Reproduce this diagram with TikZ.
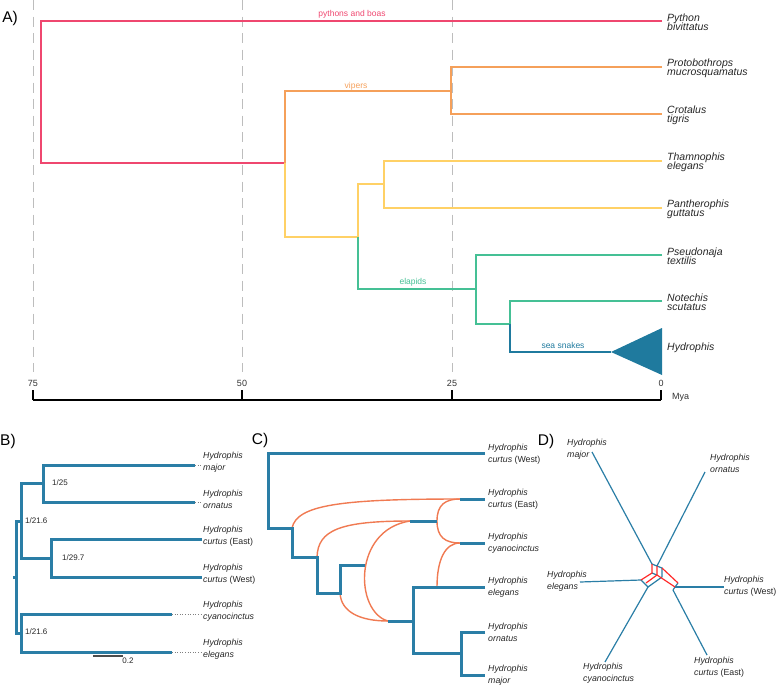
\documentclass[tikz,border=0pt]{standalone}
\usepackage{fontspec}
\setmainfont{Liberation Sans}
\usepackage{tikz}

\definecolor{pyth}{HTML}{EF476F}
\definecolor{viper}{HTML}{F5A05A}
\definecolor{colub}{HTML}{FFD166}
\definecolor{elap}{HTML}{45C095}
\definecolor{seasn}{HTML}{1F7A9E}
\definecolor{hydro}{HTML}{2A7EA6}
\definecolor{retic}{HTML}{F07A52}
\definecolor{splitred}{HTML}{FF2A2A}
\definecolor{gridgray}{HTML}{BDBDBD}
\newcommand{\tightlines}{\lineskiplimit=-20pt\relax}

\begin{document}
\begin{tikzpicture}[x=1pt,y=-1pt,
    tr/.style={line width=2.6pt},
    trb/.style={line width=3pt,hydro},
    ret/.style={line width=1.4pt,retic},
    net/.style={line width=1.2pt,hydro},
    netr/.style={line width=1.2pt,splitred},
    tip/.style={anchor=west,inner sep=0pt,align=left,text=black!85,
        font=\fontsize{10.5}{9.3}\selectfont\itshape\tightlines},
    tipb/.style={anchor=west,inner sep=0pt,align=left,text=black!85,
        font=\fontsize{8.8}{12.3}\selectfont\itshape},
    grp/.style={inner sep=0pt,font=\fontsize{8.5}{10}\selectfont},
    supp/.style={anchor=west,inner sep=0pt,text=black!85,font=\fontsize{8}{10}\selectfont},
    panel/.style={inner sep=0pt,font=\fontsize{15.5}{16}\selectfont},
    ax/.style={inner sep=0pt,text=black!80,font=\fontsize{9}{10}\selectfont}]
\useasboundingbox (0,0) rectangle (777,689);

% A) dated tree
\node[panel] (pA) at (10,18) {A)};
\foreach \x in {33,242,452}
    \draw[gridgray,line width=1pt,dash pattern=on 10pt off 6.5pt] (\x,0) -- (\x,372);
\draw[line width=1.3pt] (33,400) -- (661,400);
\foreach \x/\l in {33/75,242/50,452/25,661/0}{
    \draw[line width=1.3pt] (\x,400) -- (\x,390);
    \node[ax] (age\l) at (\x,383) {\l};
}
\node[ax,anchor=west] (mya) at (672,397) {Mya};

\coordinate (root) at (41,92);
\coordinate (pyt) at (662,21);
\coordinate (n1) at (285,163);
\coordinate (n2) at (451,91);
\coordinate (pro) at (662,67);
\coordinate (cro) at (662,114);
\coordinate (n3) at (358,237);
\coordinate (n4) at (384,184);
\coordinate (tha) at (662,161);
\coordinate (pan) at (662,208);
\coordinate (n5) at (476,289);
\coordinate (pse) at (662,255);
\coordinate (n6) at (510,324);
\coordinate (note) at (662,301);
\coordinate (sea) at (611,352);
\coordinate (hydtop) at (662,328);
\coordinate (hydbot) at (662,375);

\draw[tr,pyth] (pyt) -| (root) |- (n1);
\draw[tr,viper] (n2) -| (n1);
\draw[tr,viper] (pro) -| (n2) |- (cro);
\draw[tr,colub] (n1) |- (n3) |- (n4);
\draw[tr,colub] (tha) -| (n4) |- (pan);
\draw[tr,elap] (n3) |- (n5);
\draw[tr,elap] (pse) -| (n5) |- (n6);
\draw[tr,elap] (note) -| (n6);
\draw[tr,seasn] (n6) |- (sea);
\fill[seasn] (sea) -- (hydtop) -- (hydbot) -- cycle;

\node[grp,pyth] (lpyth) at (352,14) {pythons and boas};
\node[grp,viper] (lvip) at (356,86) {vipers};
\node[grp,elap] (lelap) at (413,282) {elapids};
\node[grp,seasn] (lsea) at (563,345) {sea snakes};

\node[tip] (lpyt) at ([xshift=5pt,yshift=-1pt]pyt) {Python\\bivittatus};
\node[tip] (lpro) at ([xshift=5pt,yshift=-1pt]pro) {Protobothrops\\mucrosquamatus};
\node[tip] (lcro) at ([xshift=5pt,yshift=-1pt]cro) {Crotalus\\tigris};
\node[tip] (ltha) at ([xshift=5pt,yshift=-1pt]tha) {Thamnophis\\elegans};
\node[tip] (lpan) at ([xshift=5pt,yshift=-1pt]pan) {Pantherophis\\guttatus};
\node[tip] (lpse) at ([xshift=5pt,yshift=-1pt]pse) {Pseudonaja\\textilis};
\node[tip] (lnot) at ([xshift=5pt,yshift=-1pt]note) {Notechis\\scutatus};
\node[tip] (lhyd) at (667,348) {Hydrophis};

% B) species tree
\node[panel] (pB) at (8,441) {B)};
\coordinate (bR) at (16,577);
\coordinate (bU) at (21,521);
\coordinate (bL) at (21,633);
\coordinate (bU1) at (43,483);
\coordinate (bU2) at (51,558);
\coordinate (bmaj) at (195,465);
\coordinate (born) at (195,502);
\coordinate (bcE) at (202,539);
\coordinate (bcW) at (202,577);
\coordinate (bcya) at (172,614);
\coordinate (bele) at (172,652);

\draw[trb] (bU) -| (bR) |- (bL);
\draw[trb] (bR) -- ++(-3,0);
\draw[trb] (bU1) -| (bU) |- (bU2);
\draw[trb] (bmaj) -| (bU1) |- (born);
\draw[trb] (bcE) -| (bU2) |- (bcW);
\draw[trb] (bcya) -| (bL) |- (bele);
\foreach \t/\d in {bmaj/7,born/7,bcya/30,bele/30}
    \draw[gray,line width=0.6pt,dotted] (\t) -- ++(\d,0);

\node[supp] (s1) at ([xshift=4pt]bU) {1/21.6};
\node[supp] (s2) at ([xshift=9pt]bU1) {1/25};
\node[supp] (s3) at ([xshift=11pt]bU2) {1/29.7};
\node[supp] (s4) at ([xshift=4pt,yshift=1pt]bL) {1/21.6};
\coordinate (sbA) at (93,656);
\coordinate (sbB) at (123,656);
\draw[line width=1.5pt,black!70] (sbA) -- (sbB);
\node[supp,anchor=north] (sbl) at ([xshift=5pt,yshift=-2pt]sbB) {0.2};

\node[tipb] (lbmaj) at (203,462.5) {Hydrophis\\major};
\node[tipb] (lborn) at (203,499.5) {Hydrophis\\ornatus};
\node[tipb] (lbcE) at (203,536.5) {Hydrophis\\curtus \textup{(East)}};
\node[tipb] (lbcW) at (203,574.5) {Hydrophis\\curtus \textup{(West)}};
\node[tipb] (lbcya) at (203,611.5) {Hydrophis\\cyanocinctus};
\node[tipb] (lbele) at (203,649.5) {Hydrophis\\elegans};

% C) network with reticulations
\node[panel] (pC) at (260,440) {C)};
\coordinate (cR) at (268,490);
\coordinate (cW) at (485,453);
\coordinate (c1) at (292,528);
\coordinate (c2) at (317,557);
\coordinate (c3) at (340,593);
\coordinate (c3s) at (365,565);
\coordinate (e1) at (388,621);
\coordinate (e2) at (413,621);
\coordinate (cel) at (485,587);
\coordinate (e3) at (461,653);
\coordinate (cor) at (485,632);
\coordinate (cmj) at (485,675);
\coordinate (h1) at (460,499);
\coordinate (cE) at (485,499);
\coordinate (h2) at (460,543);
\coordinate (cC) at (485,543);
\coordinate (h3) at (410,521);
\coordinate (h3e) at (437,521);
\coordinate (r6) at (437,587);

\draw[ret] (c1) .. controls (297,505) and (340,499) .. (h1);
\draw[ret] (c2) .. controls (318,530) and (340,521) .. (h3);
\draw[ret] (e1) .. controls (355,612) and (352,530) .. (h3);
\draw[ret] (c3) .. controls (341,612) and (360,621) .. (e1);
\draw[ret] (h1) .. controls (445,499) and (437,505) .. (h3e) .. controls (437,537) and (445,543) .. (h2);
\draw[ret] (r6) .. controls (437,560) and (445,543) .. (h2);

\draw[trb] (cW) -| (cR) |- (c1) |- (c2) |- (c3) |- (c3s);
\draw[trb] (e1) -- (e2);
\draw[trb] (cel) -| (e2) |- (e3);
\draw[trb] (cor) -| (e3) |- (cmj);
\draw[trb] (h1) -- (cE);
\draw[trb] (h2) -- (cC);
\draw[trb] (h3) -- (h3e);

\node[tipb] (lcW) at ([xshift=3pt,yshift=-1pt]cW) {Hydrophis\\curtus \textup{(West)}};
\node[tipb] (lcE) at ([xshift=3pt]cE) {Hydrophis\\curtus \textup{(East)}};
\node[tipb] (lcC) at ([xshift=3pt]cC) {Hydrophis\\cyanocinctus};
\node[tipb] (lcel) at ([xshift=3pt]cel) {Hydrophis\\elegans};
\node[tipb] (lcor) at ([xshift=3pt]cor) {Hydrophis\\ornatus};
\node[tipb] (lcmj) at ([xshift=3pt]cmj) {Hydrophis\\major};

% D) splits network
\node[panel] (pD) at (546,441) {D)};
\coordinate (dMo) at (592,452);
\coordinate (dM) at (652,564);
\coordinate (dOo) at (705,472);
\coordinate (dO) at (657,566);
\coordinate (dEo) at (580,582);
\coordinate (dE) at (641,580);
\coordinate (dWo) at (724,587);
\coordinate (dW) at (675,587);
\coordinate (dCEo) at (707,655);
\coordinate (dCE) at (673,590);
\coordinate (dCyo) at (605,662);
\coordinate (dCy) at (648,587);
\coordinate (dA) at (652,573);
\coordinate (dB) at (657,575);
\coordinate (dC) at (662,568);
\coordinate (dD) at (662,577);
\coordinate (dF) at (646,583);
\coordinate (dG) at (678,583);

\draw[net] (dMo) -- (dM) -- (dO) -- (dOo);
\draw[net] (dO) -- (dC) -- (dD);
\draw[net] (dA) -- (dB);
\draw[net] (dEo) -- (dE) -- (dCy) -- (dD);
\draw[net] (dCy) -- (dCyo);
\draw[net] (dW) -- (dWo);
\draw[net] (dW) -- (dG);
\draw[net] (dCE) -- (dCEo);
\draw[net] (dCE) -- (dW);
\draw[netr] (dM) -- (dA) -- (dE);
\draw[netr] (dO) -- (dB) -- (dF);
\draw[netr] (dB) -- (dW);
\draw[netr] (dC) -- (dG);

\node[tipb] (ldmaj) at (567,449.5) {Hydrophis\\major};
\node[tipb] (ldorn) at (710,463.5) {Hydrophis\\ornatus};
\node[tipb] (ldele) at (547,581) {Hydrophis\\elegans};
\node[tipb] (ldcW) at (724,586) {Hydrophis\\curtus \textup{(West)}};
\node[tipb] (ldcE) at (694,667) {Hydrophis\\curtus \textup{(East)}};
\node[tipb] (ldcya) at (583,673) {Hydrophis\\cyanocinctus};
\end{tikzpicture}
\end{document}
